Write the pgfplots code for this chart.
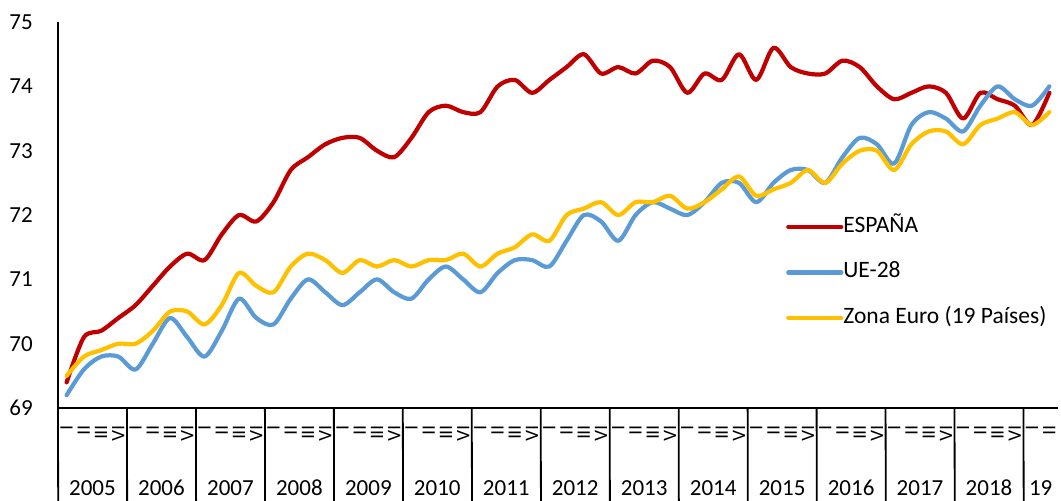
\documentclass[border=0pt]{standalone}
\usepackage{pgfplots}
\pgfplotsset{compat=1.18}
\usepackage{fontspec}
\setmainfont{Carlito}
\definecolor{esp}{HTML}{C00000}
\definecolor{ue}{HTML}{5B9BD5}
\definecolor{ze}{HTML}{FFC000}
\pgfplotstableread{
i esp ue ze
0 69.4 69.2 69.5
1 70.1 69.6 69.8
2 70.2 69.8 69.9
3 70.4 69.8 70.0
4 70.6 69.6 70.0
5 70.9 70.0 70.2
6 71.2 70.4 70.5
7 71.4 70.1 70.5
8 71.3 69.8 70.3
9 71.7 70.2 70.6
10 72.0 70.7 71.1
11 71.9 70.4 70.9
12 72.2 70.3 70.8
13 72.7 70.7 71.2
14 72.9 71.0 71.4
15 73.1 70.8 71.3
16 73.2 70.6 71.1
17 73.2 70.8 71.3
18 73.0 71.0 71.2
19 72.9 70.8 71.3
20 73.2 70.7 71.2
21 73.6 71.0 71.3
22 73.7 71.2 71.3
23 73.6 71.0 71.4
24 73.6 70.8 71.2
25 74.0 71.1 71.4
26 74.1 71.3 71.5
27 73.9 71.3 71.7
28 74.1 71.2 71.6
29 74.3 71.6 72.0
30 74.5 72.0 72.1
31 74.2 71.9 72.2
32 74.3 71.6 72.0
33 74.2 72.0 72.2
34 74.4 72.2 72.2
35 74.3 72.1 72.3
36 73.9 72.0 72.1
37 74.2 72.2 72.2
38 74.1 72.5 72.4
39 74.5 72.5 72.6
40 74.1 72.2 72.3
41 74.6 72.5 72.4
42 74.3 72.7 72.5
43 74.2 72.7 72.7
44 74.2 72.5 72.5
45 74.4 72.9 72.8
46 74.3 73.2 73.0
47 74.0 73.1 73.0
48 73.8 72.8 72.7
49 73.9 73.4 73.1
50 74.0 73.6 73.3
51 73.9 73.5 73.3
52 73.5 73.3 73.1
53 73.9 73.7 73.4
54 73.8 74.0 73.5
55 73.7 73.8 73.6
56 73.4 73.7 73.4
57 73.9 74.0 73.6
}\datatable
\begin{document}
\begin{tikzpicture}
\begin{axis}[
  at={(0,0)}, anchor=south west,
  scale only axis, width=1000pt, height=386pt,
  xmin=-0.5, xmax=57.5, ymin=69, ymax=75,
  clip=false,
  axis x line=bottom, axis y line=left,
  axis line style={-, line width=1.8pt, black},
  major tick length=0pt,
  ytick={69,70,71,72,73,74,75},
  /pgf/number format/assume math mode=true,
  yticklabel style={font=\fontsize{23}{23}\selectfont, inner sep=0pt},
  yticklabel shift=25pt,
  xtick={0,...,57},
  xticklabels={I,II,III,IV,I,II,III,IV,I,II,III,IV,I,II,III,IV,I,II,III,IV,I,II,III,IV,I,II,III,IV,I,II,III,IV,I,II,III,IV,I,II,III,IV,I,II,III,IV,I,II,III,IV,I,II,III,IV,I,II,III,IV,I,II},
  xticklabel style={font=\fontsize{19}{19}\selectfont, inner sep=0pt, anchor=west, rotate=-90, yscale=-1},
  xticklabel shift=17pt,
  legend cell align=left,
  legend style={draw=none, fill=none, at={(0.728,0.497)}, anchor=north west,
    font=\fontsize{23.5}{23.5}\selectfont, row sep=24.5pt, column sep=0pt, inner sep=0pt,
    nodes={inner sep=0pt, text height=16pt, text depth=5pt, xshift=6pt}},
  legend image code/.code={\draw[#1, line width=4.2pt, line cap=round] (0pt,0pt) -- (53pt,0pt);},
  every axis plot/.append style={line width=4.2pt, smooth, tension=0.5, line join=round, line cap=round},
]
\addplot[esp] table[x=i, y=esp] {\datatable};
\addlegendentry{ESPAÑA}
\addplot[ue] table[x=i, y=ue] {\datatable};
\addlegendentry{UE-28}
\addplot[ze] table[x=i, y=ze] {\datatable};
\addlegendentry{Zona Euro (19 Países)}
\pgfplotsinvokeforeach{0,...,14}{
  \draw[line width=1.8pt] (axis cs:{4*#1-0.5},69) -- ++(0,-93pt);
}
\pgfplotsinvokeforeach{0,...,13}{
  \node[font=\fontsize{23}{23}\selectfont, anchor=base] at (axis cs:{4*#1+1.5},69) [yshift=-87pt] {\pgfmathtruncatemacro{\yr}{2005+#1}\yr};
}
\node[font=\fontsize{23}{23}\selectfont, anchor=base] at (axis cs:56.5,69) [yshift=-87pt] {19};
\end{axis}
\pgfresetboundingbox
\path[use as bounding box] (-58pt,-93pt) rectangle (1003pt,408pt);
\end{tikzpicture}
\end{document}
